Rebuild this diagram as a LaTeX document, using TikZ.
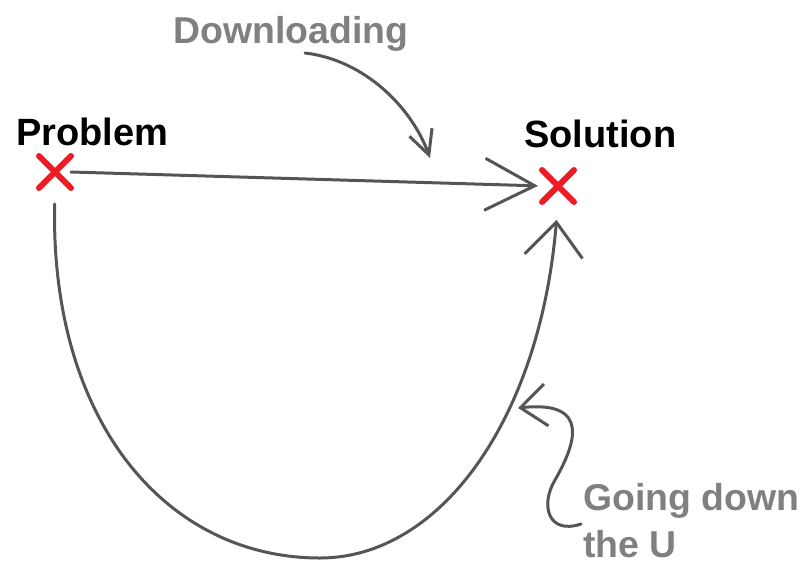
\documentclass[tikz,border=0pt]{standalone}
\usepackage{fontspec}
\setmainfont{Liberation Sans}
\usetikzlibrary{arrows.meta,shapes.misc}
\definecolor{xred}{RGB}{237,28,36}
\definecolor{notegray}{RGB}{128,128,128}
\definecolor{pengray}{RGB}{85,85,85}

\begin{document}
\begin{tikzpicture}[x=0.5pt,y=-0.5pt,line cap=round,line join=round,
  label node/.style={inner sep=0pt,anchor=base west,font=\fontsize{19}{23.5}\selectfont\bfseries},
  note node/.style={inner sep=0pt,anchor=base west,text=notegray,align=left,font=\fontsize{18.7}{23.5}\selectfont\bfseries},
  cross node/.style={cross out,draw=xred,line width=3pt,minimum size=13pt,inner sep=0pt},
  hand line/.style={draw=pengray,line width=1.5pt}]
  \useasboundingbox (0,0) rectangle (807,562);
  \node[label node] (prob) at (16,145) {Problem};
  \node[label node] (sol) at (524,147) {Solution};
  \node[note node] (down) at (173,43) {Downloading};
  \node[note node] (ushape) at (583,557) {Going down\\the U};
  \node[cross node] (pX) at (55,172) {};
  \node[cross node] (sX) at (558,186) {};
  % free ends of the two note arrows
  \coordinate (dlStart) at (305,53);
  \coordinate (dlEnd) at (430,158);
  \coordinate (uStart) at (581,524);
  \coordinate (uHit) at (518,408);

  \draw[hand line,-{Straight Barb[length=25pt,width=26pt]},shorten >=2pt]
    (pX.east) -- (sX.west);
  \draw[hand line,-{Straight Barb[length=17pt,width=29pt]},shorten <=8pt,shorten >=9pt]
    (pX.south) .. controls (50,420) and (165,558) .. (320,558)
    .. controls (440,558) and (540,420) .. (sX.south);
  \draw[hand line,-{Straight Barb[length=12pt,width=12pt]}]
    (dlStart) .. controls (365,60) and (412,108) .. (dlEnd);
  \draw[hand line,-{Straight Barb[length=13pt,width=21pt]}]
    (uStart) .. controls (548,535) and (540,505) .. (555,480)
    .. controls (575,445) and (592,400) .. (uHit);
\end{tikzpicture}
\end{document}
